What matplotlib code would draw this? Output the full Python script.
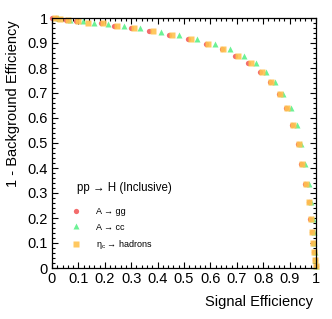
import matplotlib
matplotlib.use("Agg")
import matplotlib.pyplot as plt
from matplotlib.ticker import MultipleLocator, FuncFormatter

plt.rcParams['font.family'] = ['Liberation Sans', 'DejaVu Sans']
plt.rcParams['mathtext.fontset'] = 'custom'
plt.rcParams['mathtext.rm'] = 'Liberation Sans'
plt.rcParams['mathtext.it'] = 'Liberation Sans:italic'

# ROC points (signal eff, 1 - background eff)
gg_x = [0.0, 0.015, 0.053, 0.091, 0.184, 0.235, 0.299, 0.369, 0.443, 0.516,
        0.582, 0.643, 0.695, 0.744, 0.788, 0.824, 0.858, 0.886, 0.909, 0.932,
        0.945, 0.958, 0.972, 0.979, 0.985, 0.989, 0.992, 0.996, 1.0]
gg_y = [1.0, 1.0, 0.994, 0.988, 0.979, 0.969, 0.960, 0.947, 0.932, 0.915,
        0.895, 0.875, 0.848, 0.819, 0.785, 0.745, 0.697, 0.639, 0.572, 0.496,
        0.416, 0.336, 0.263, 0.196, 0.143, 0.101, 0.065, 0.032, 0.008]

cc_x = [0.023, 0.068, 0.116, 0.159, 0.211, 0.273, 0.335, 0.412, 0.482, 0.550,
        0.616, 0.674, 0.727, 0.772, 0.809, 0.845, 0.876, 0.905, 0.927, 0.944,
        0.958, 0.972, 0.981, 0.987, 0.991, 0.994, 0.996, 0.998, 1.0]
cc_y = [0.999, 0.994, 0.989, 0.981, 0.975, 0.969, 0.960, 0.946, 0.932, 0.915,
        0.895, 0.875, 0.848, 0.819, 0.785, 0.745, 0.697, 0.639, 0.572, 0.496,
        0.416, 0.336, 0.263, 0.196, 0.143, 0.101, 0.065, 0.032, 0.008]

etac_x = [0.011, 0.030, 0.061, 0.098, 0.136, 0.192, 0.245, 0.311, 0.381, 0.456,
          0.525, 0.590, 0.649, 0.705, 0.753, 0.795, 0.831, 0.864, 0.891, 0.914,
          0.936, 0.948, 0.962, 0.973, 0.981, 0.986, 0.990, 0.994, 0.997, 1.0]
etac_y = [1.0, 0.998, 0.994, 0.988, 0.981, 0.979, 0.969, 0.960, 0.947, 0.932,
          0.915, 0.895, 0.875, 0.848, 0.819, 0.785, 0.745, 0.697, 0.639, 0.572,
          0.496, 0.416, 0.336, 0.263, 0.196, 0.143, 0.101, 0.065, 0.032, 0.008]

fig = plt.figure(figsize=(3.32, 3.19), dpi=100)
ax = fig.add_axes([52 / 332, 51 / 319, 264 / 332, 250 / 319])

ax.plot(gg_x, gg_y, ls='none', marker='o', ms=3.8, mec='none',
        color='#f25c5c', alpha=0.9, clip_on=False, label='A → gg')
ax.plot(cc_x, cc_y, ls='none', marker='^', ms=4.2, mec='none',
        color='#5cf08a', alpha=0.9, clip_on=False, label='A → cc')
ax.plot(etac_x, etac_y, ls='none', marker='s', ms=4.4, mec='none',
        color='#ffc24f', alpha=0.9, clip_on=False,
        label=r'η$_{\mathrm{c}}$ → hadrons')

ax.set_xlim(0, 1)
ax.set_ylim(0, 1)

fmt = FuncFormatter(lambda v, p: '%g' % round(v, 2))
for axis in (ax.xaxis, ax.yaxis):
    axis.set_major_locator(MultipleLocator(0.1))
    axis.set_minor_locator(MultipleLocator(0.02))
    axis.set_major_formatter(fmt)
ax.tick_params(which='both', direction='in', top=True, right=True, width=0.8)
ax.tick_params(which='major', length=4.0, labelsize=10.5, pad=3)
ax.tick_params(which='minor', length=2.0)
for s in ax.spines.values():
    s.set_linewidth(0.9)

fig.text(313 / 332, 1 - 302 / 319, 'Signal Efficiency', ha='right',
         va='center', fontsize=10.5)
fig.text(13 / 332, 1 - 20 / 319, '1 - Background Efficiency', ha='center',
         va='top', rotation=90, fontsize=10.5)

ax.text(0.094, 0.32, 'pp → H (Inclusive)', transform=ax.transAxes,
        fontsize=8.3, va='center', ha='left')
ax.legend(loc='upper left', bbox_to_anchor=(0.075, 0.245), frameon=False,
          fontsize=6.5, handlelength=1.0, handletextpad=1.7,
          labelspacing=0.75, borderpad=0, borderaxespad=0, markerscale=1.0)

fig.savefig('out.png', dpi=100)
